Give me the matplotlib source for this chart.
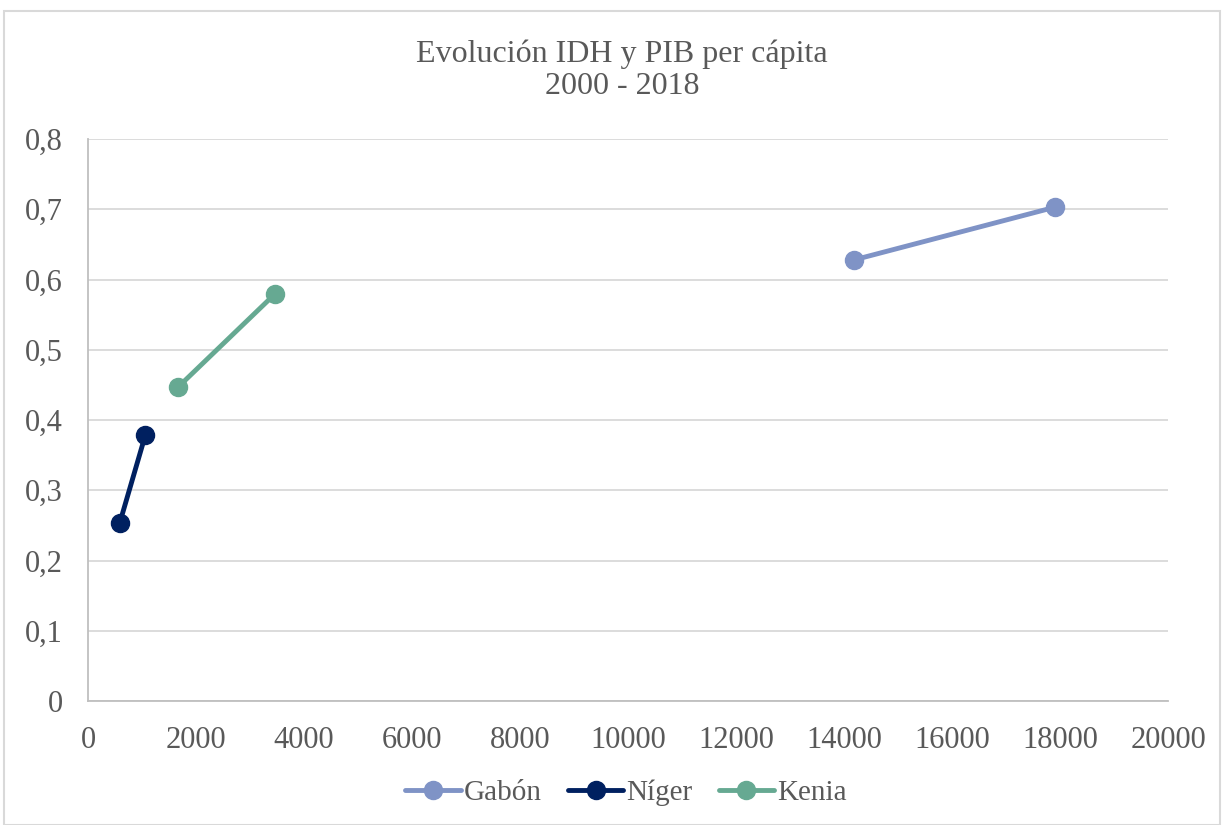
import matplotlib
matplotlib.use("Agg")
import matplotlib.pyplot as plt
from matplotlib.patches import Rectangle

plt.rcParams['font.family'] = ['Liberation Serif', 'DejaVu Serif']

series_names = ["Gabón", "Níger", "Kenia"]
gabon_x = [14190, 17910]
gabon_y = [0.628, 0.703]
niger_x = [590, 1060]
niger_y = [0.254, 0.378]
kenia_x = [1670, 3470]
kenia_y = [0.447, 0.580]
colors = ["#7F93C6", "#002060", "#66A992"]
x_ticks = list(range(0, 20001, 2000))
y_ticks = [0, 0.1, 0.2, 0.3, 0.4, 0.5, 0.6, 0.7, 0.8]
y_labels = ["0", "0,1", "0,2", "0,3", "0,4", "0,5", "0,6", "0,7", "0,8"]

fig = plt.figure(figsize=(12.24, 8.25), dpi=100)
ax = fig.add_axes([88/1224, 1-701/825, (1168-88)/1224, (701-139)/825])

txt = "#595959"
for xs, ys, c, n in zip([gabon_x, niger_x, kenia_x], [gabon_y, niger_y, kenia_y], colors, series_names):
    ax.plot(xs, ys, color=c, lw=3.5, marker='o', ms=13, label=n, solid_capstyle='round', zorder=3)

ax.set_xlim(0, 20000)
ax.set_ylim(0, 0.8)
ax.set_xticks(x_ticks)
ax.set_xticklabels([str(v) for v in x_ticks])
ax.set_yticks(y_ticks)
ax.set_yticklabels(y_labels)
ax.tick_params(axis='both', length=0, labelsize=22, colors=txt)
ax.tick_params(axis='x', pad=18)
ax.tick_params(axis='y', pad=18)
ax.grid(axis='y', color='#D9D9D9', lw=1.3)
ax.set_axisbelow(True)
for s in ['top', 'right']:
    ax.spines[s].set_visible(False)
for s in ['left', 'bottom']:
    ax.spines[s].set_color('#BFBFBF')
    ax.spines[s].set_linewidth(1.3)

fig.text(622/1224, 1-70/825, "Evolución IDH y PIB per cápita\n2000 - 2018", ha='center', va='center',
         fontsize=23, color=txt, linespacing=1.12)

leg = fig.legend(loc='center', bbox_to_anchor=(626/1224, 1-793/825), ncol=3, frameon=False,
                 fontsize=21, handlelength=1.9, columnspacing=0.9, handletextpad=0.1)
for t in leg.get_texts():
    t.set_color(txt)

fig.patches.append(Rectangle((4/1224, 0), 1-8/1224, 1-11/825, transform=fig.transFigure,
                             fill=False, edgecolor='#D9D9D9', lw=1.5))

fig.savefig("out.png", dpi=100, facecolor='white')
